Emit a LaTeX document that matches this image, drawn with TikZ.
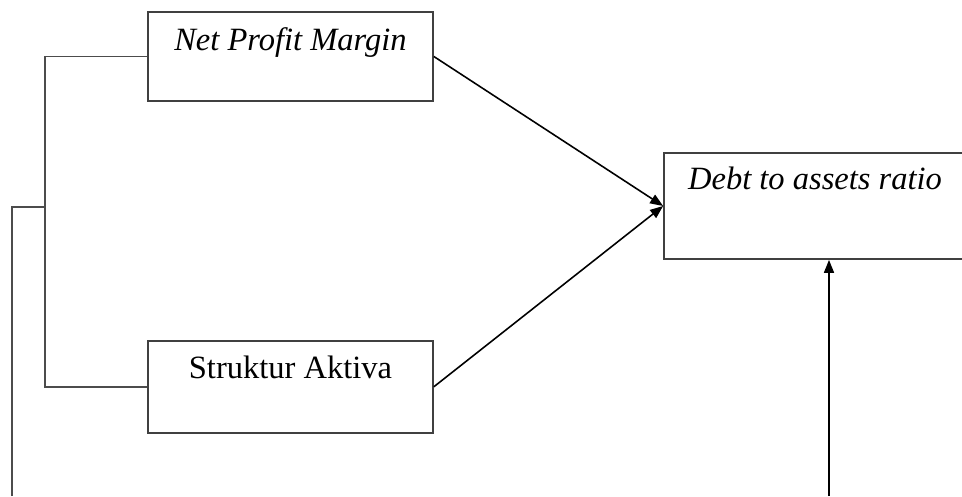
\documentclass[tikz,border=0pt]{standalone}
\usepackage{fontspec}
\setmainfont{Liberation Serif}
\usetikzlibrary{arrows.meta, positioning}

\begin{document}
\begin{tikzpicture}[
  node distance=4.76cm and 4.6cm,
  every node/.style={draw=black!75, line width=1pt, font=\fontsize{18.5}{22}\selectfont,
                     inner xsep=0pt, inner ysep=0pt, align=center},
  var/.style={minimum width=5.7cm, text height=0.76cm, text depth=1.02cm},
  dep/.style={minimum width=6.04cm, text height=0.74cm, text depth=1.38cm},
  link/.style={draw=black!70, line width=1pt},
  arr/.style={-{Triangle[length=0.26cm, width=0.2cm]}, line width=0.9pt}
]
  \useasboundingbox (0,0) rectangle (19.24,9.92);

  \node[var] (npm) at (5.81,8.79) {\itshape Net Profit Margin};
  \node[var, below=4.76cm of npm, text depth=1.08cm] (sa) {Struktur Aktiva};
  \node[dep] (dar) at (16.3,5.80) {\itshape Debt to assets ratio};

  \coordinate (brk) at (0.9,5.78);
  \coordinate (lbot) at (0.24,0);
  \coordinate (rbot) at (16.58,0);

  % bracket on the left
  \draw[link] (npm.west) -| (brk) |- (sa.west);
  \draw[link] (lbot) |- (brk);

  \draw[arr] (npm.east) -- (dar.west);
  \draw[arr] (sa.east) -- (dar.west);
  \draw[arr] (rbot) -- (rbot |- dar.south);
\end{tikzpicture}
\end{document}
